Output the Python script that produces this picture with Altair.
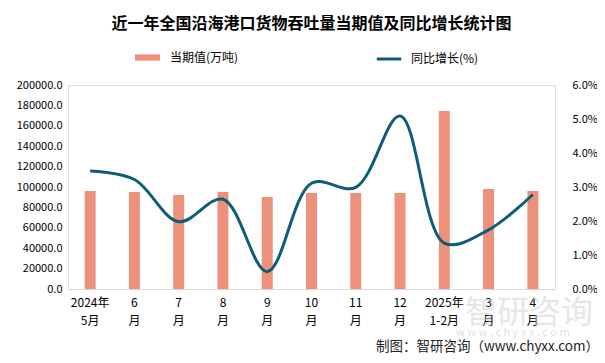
import altair as alt
import pandas as pd

months = ["2024年\n5月", "6\n月", "7\n月", "8\n月", "9\n月", "10\n月", "11\n月", "12\n月", "2025年\n1-2月", "3\n月", "4\n月"]
volume = [96000, 95100, 92200, 95100, 90200, 94100, 94100, 94100, 174500, 98000, 96100]
growth = [3.47, 3.22, 1.98, 2.64, 0.51, 3.11, 2.99, 5.09, 1.35, 1.74, 2.78]

df = pd.DataFrame({"month": months, "volume": volume, "growth": growth,
                   "s1": "当期值(万吨)", "s2": "同比增长(%)"})

FONT = "Noto Sans CJK SC"
BAR = "#EE917A"
LINE = "#0D5C79"

x = alt.X("month:N", sort=months, title=None,
          scale=alt.Scale(paddingInner=0.0, paddingOuter=0.0),
          axis=alt.Axis(labelAngle=0, labelExpr="split(datum.label, '\\n')",
                        ticks=False, domainColor="#d9d9d9", labelFontSize=12,
                        labelColor="#000", labelPadding=8, labelFont=FONT,
                        labelLineHeight=18))

bars = alt.Chart(df).mark_bar(size=11).encode(
    x=x,
    y=alt.Y("volume:Q", title=None,
            scale=alt.Scale(domain=[0, 200000]),
            axis=alt.Axis(values=list(range(0, 200001, 20000)), format=".1f",
                          grid=False, ticks=False, domain=False,
                          labelFontSize=11, labelColor="#000", labelPadding=6,
                          labelFont=FONT)),
    color=alt.Color("s1:N", scale=alt.Scale(range=[BAR]),
                    legend=alt.Legend(title=None, orient="none", legendX=67, legendY=-40,
                                      symbolType="M-1,-0.25H1V0.25H-1Z", symbolSize=625,
                                      symbolStrokeWidth=0, labelFontSize=12,
                                      labelOffset=10, labelFont=FONT, labelColor="#000"))
)

line = alt.Chart(df).mark_line(interpolate="catmull-rom", strokeWidth=3).encode(
    x=x,
    y=alt.Y("growth:Q", title=None,
            scale=alt.Scale(domain=[0, 6]),
            axis=alt.Axis(orient="right", values=[0, 1, 2, 3, 4, 5, 6],
                          labelExpr="format(datum.value, '.1f') + '%'",
                          grid=False, ticks=False, domain=False,
                          labelFontSize=11, labelColor="#000", labelPadding=17,
                          labelFont=FONT)),
    stroke=alt.Stroke("s2:N", scale=alt.Scale(range=[LINE]),
                      legend=alt.Legend(title=None, orient="none", legendX=307, legendY=-40,
                                        symbolType="stroke", symbolStrokeWidth=3,
                                        symbolSize=600, labelFontSize=12, labelOffset=8,
                                        labelFont=FONT, labelColor="#000"))
)

wm = alt.Chart(pd.DataFrame({"t": ["智研咨询"]})).mark_text(
    font=FONT, fontSize=32, color="#cfcfcf", opacity=0.5, align="left", baseline="middle"
).encode(text="t:N", x=alt.value(397), y=alt.value(228))

wm2 = alt.Chart(pd.DataFrame({"t": ["w w w . c h y x x . c o m"]})).mark_text(
    font=FONT, fontSize=11, color="#cfcfcf", opacity=0.6, align="left", baseline="middle"
).encode(text="t:N", x=alt.value(388), y=alt.value(248))

footer = alt.Chart(pd.DataFrame({"t": ["制图：智研咨询（www.chyxx.com）"]})).mark_text(
    font=FONT, fontSize=13.5, color="#222", align="right", baseline="middle"
).encode(text="t:N", x=alt.value(531), y=alt.value(262))

chart = alt.layer(bars, line, wm, wm2, footer).resolve_scale(
    y="independent", color="independent", stroke="independent"
).properties(
    width=487, height=204,
    autosize=alt.AutoSizeParams(type="none"),
    padding={"left": 60, "top": 77, "right": 42, "bottom": 66},
    title=alt.TitleParams("近一年全国沿海港口货物吞吐量当期值及同比增长统计图",
                          font=FONT, fontSize=16, fontWeight="bold", color="#000",
                          anchor="middle", offset=13)
).configure_view(stroke=None).configure(background="white")

chart.save("out.html", embed_options={"renderer": "svg", "actions": False})
